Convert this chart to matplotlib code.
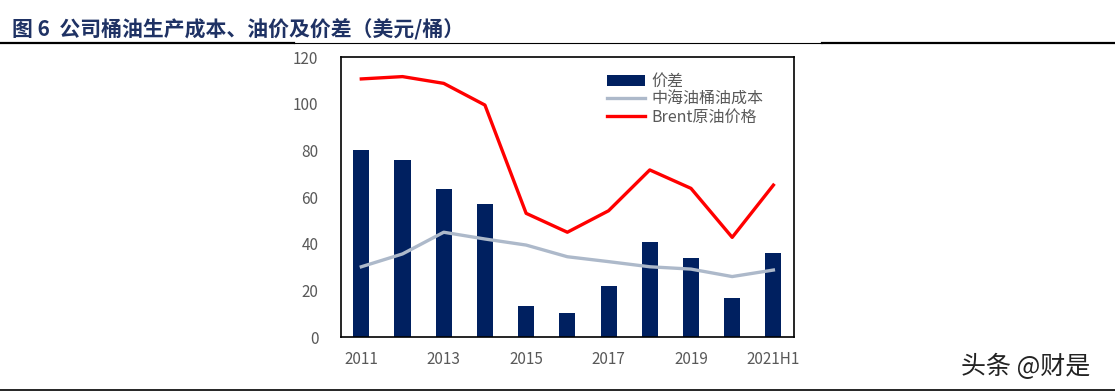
import matplotlib
matplotlib.use("Agg")
import matplotlib.pyplot as plt
import numpy as np

plt.rcParams["font.family"] = ["Noto Sans CJK SC", "DejaVu Sans"]

anos = ["2011", "2012", "2013", "2014", "2015", "2016", "2017", "2018", "2019", "2020", "2021H1"]
spread = [80, 76, 63.5, 56.8, 13.5, 10.2, 21.7, 40.7, 34, 16.7, 35.9]
custo = [30.1, 35.6, 44.9, 42, 39.4, 34.4, 32.3, 30.1, 29.1, 25.9, 28.7]
brent = [110.6, 111.6, 108.7, 99.4, 53, 44.9, 54.1, 71.6, 63.7, 42.7, 65.1]
yticks = [0, 20, 40, 60, 80, 100, 120]

navy = "#002060"
cinza = "#595959"

fig = plt.figure(figsize=(11.15, 3.91), dpi=100)

# titulo e linhas de separacao
fig.text(12 / 1115, 1 - 30 / 391, "图 6  公司桶油生产成本、油价及价差（美元/桶）",
         fontsize=15, fontweight="bold", color="#1F3264", va="center", ha="left")
fig.add_artist(plt.Line2D([0, 294 / 1115], [1 - 42.7 / 391] * 2, color="black", lw=1.6))
fig.add_artist(plt.Line2D([294 / 1115, 822 / 1115], [1 - 42.7 / 391] * 2, color="black", lw=0.8))
fig.add_artist(plt.Line2D([822 / 1115, 1], [1 - 42.7 / 391] * 2, color="black", lw=1.6))
fig.add_artist(plt.Line2D([0, 1], [1 - 389.5 / 391] * 2, color="black", lw=1.2))
fig.text(1090 / 1115, 1 - 367 / 391, "头条 @财是", fontsize=18, color="#222222",
         ha="right", va="center")

ax = fig.add_axes([340.7 / 1115, 54 / 391, 453.3 / 1115, 280 / 391])
x = np.arange(len(anos))
b = ax.bar(x, spread, width=0.39, color=navy, label="价差", zorder=2)
l1, = ax.plot(x, custo, color="#ADB9CA", lw=2.4, label="中海油桶油成本", zorder=3)
l2, = ax.plot(x, brent, color="#FF0000", lw=2.4, label="Brent原油价格", zorder=4)

ax.set_xlim(-0.5, len(anos) - 0.5)
ax.set_ylim(0, 120)
ax.set_yticks(yticks)
ax.set_xticks(x[::2])
ax.set_xticklabels(anos[::2])
ax.tick_params(axis="both", length=0, labelsize=11, colors=cinza)
ax.tick_params(axis="x", pad=10)
ax.tick_params(axis="y", pad=16)
for s in ax.spines.values():
    s.set_linewidth(1.2)
    s.set_color("black")

leg = ax.legend([b, l1, l2], ["价差", "中海油桶油成本", "Brent原油价格"],
                loc="upper left", bbox_to_anchor=(0.555, 0.995), frameon=False,
                fontsize=11.5, handlelength=2.4, labelspacing=0.05, handletextpad=0.4)
for t in leg.get_texts():
    t.set_color(cinza)

fig.savefig("out.png", dpi=100)
